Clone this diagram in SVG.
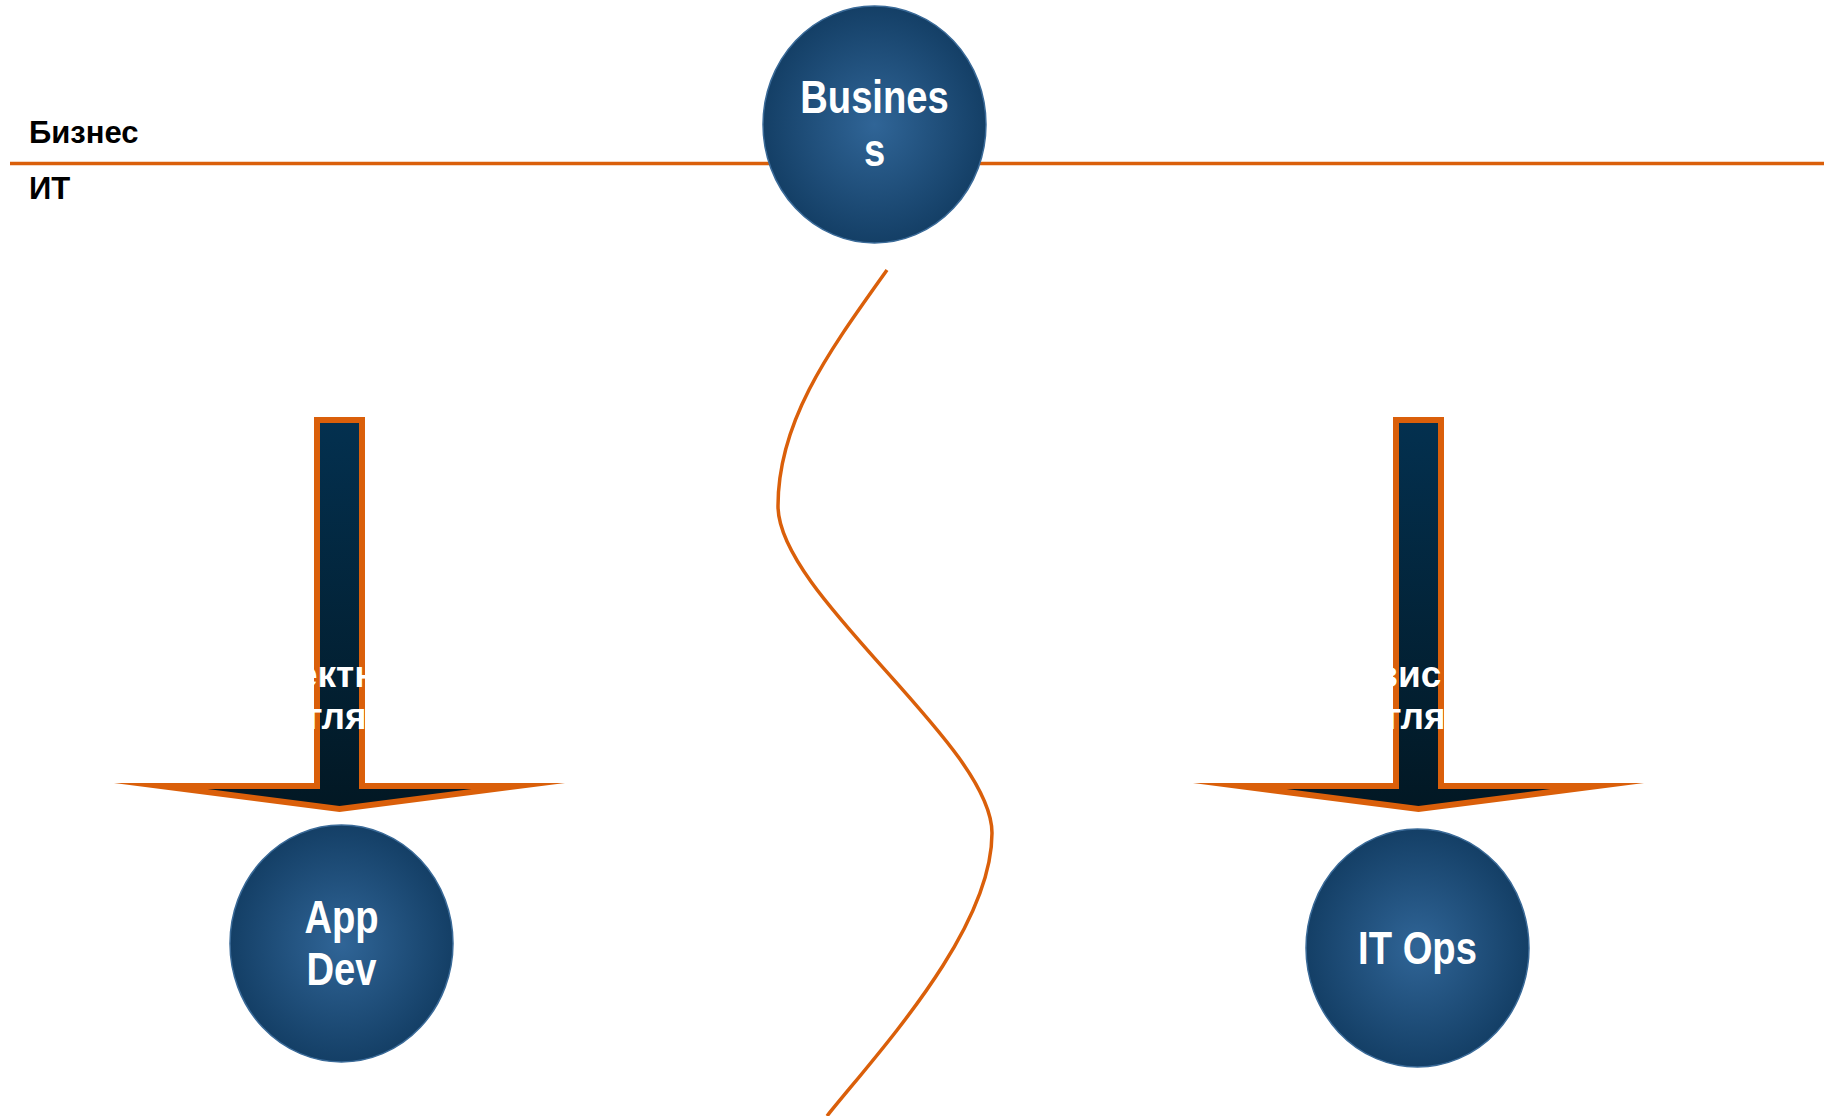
<svg xmlns="http://www.w3.org/2000/svg" width="1826" height="1116" viewBox="0 0 1826 1116">
<style>
.sep{stroke:#DA5F0A;stroke-width:3.5;fill:none}
.curve{stroke:#DA5F0A;stroke-width:3.5;fill:none}
.lbl{font-family:"Liberation Sans",Arial,sans-serif;font-weight:bold;font-size:31px;fill:#000}
.circ{fill:url(#cg);stroke:#3a6a98;stroke-width:1.5}
.ctext{font-family:"Liberation Sans",Arial,sans-serif;font-weight:bold;font-size:46px;fill:#fff;text-anchor:middle}
.atext{font-family:"Liberation Sans",Arial,sans-serif;font-weight:bold;font-size:37px;fill:#fff}
.aout{fill:#DA5F0A}
.ain{fill:url(#ag)}
</style>
<defs>
<radialGradient id="cg" cx="0.5" cy="0.5" r="0.5">
<stop offset="0" stop-color="#306597"/>
<stop offset="1" stop-color="#143f66"/>
</radialGradient>
<linearGradient id="ag" x1="0" y1="0" x2="0" y2="1">
<stop offset="0" stop-color="#03304f"/>
<stop offset="1" stop-color="#021824"/>
</linearGradient>
<clipPath id="clipL" clipPathUnits="userSpaceOnUse">
<rect x="297" y="640" width="69" height="58"/>
<rect x="307" y="698" width="61" height="47"/>
</clipPath>
<clipPath id="clipR" clipPathUnits="userSpaceOnUse">
<rect x="297" y="640" width="67" height="58"/>
<rect x="307" y="698" width="61" height="47"/>
</clipPath>
<g id="arrowShape">
<polygon class="aout" points="314,417 365,417 365,783 565,783 339.5,812 114,783 314,783"/>
<polygon class="ain" points="320,423 359,423 359,789 471.5,789 339.5,806 207.5,789 320,789"/>
</g>
</defs>
<rect width="1826" height="1116" fill="#fff"/>
<line class="sep" x1="10" y1="163.5" x2="1824" y2="163.5"/>
<text class="lbl" x="29" y="143">Бизнес</text>
<text class="lbl" x="29" y="199">ИТ</text>
<g id="connectors">
<path class="curve" d="M 887,270 C 830,350 778,420 778,506 C 778,595 992,745 992,833 C 992,930 880,1050 827,1116"/>
</g>
<g id="node-business">
<ellipse class="circ" cx="874.5" cy="124.5" rx="111.5" ry="118.5"/>
<g transform="translate(874.5,0) scale(0.83,1)">
<text class="ctext" x="0" y="113">Busines</text>
<text class="ctext" x="0" y="166">s</text>
</g>
</g>
<g id="arrow-project">
<use href="#arrowShape"/>
<text class="atext" clip-path="url(#clipL)"><tspan x="297" y="687" text-anchor="end">Про</tspan><tspan x="297" y="687" text-anchor="start">ектный</tspan><tspan x="307" y="729" text-anchor="end">вз</tspan><tspan x="307" y="729" text-anchor="start">гляд</tspan></text>
</g>
<g id="arrow-service" transform="translate(1079,0)">
<use href="#arrowShape"/>
<text class="atext" clip-path="url(#clipR)"><tspan x="319" y="687" text-anchor="end">Серв</tspan><tspan x="319" y="687" text-anchor="start">исный</tspan><tspan x="307" y="729" text-anchor="end">вз</tspan><tspan x="307" y="729" text-anchor="start">гляд</tspan></text>
</g>
<g id="node-appdev">
<ellipse class="circ" cx="341.5" cy="943.5" rx="111.5" ry="118.5"/>
<g transform="translate(341.5,0) scale(0.83,1)">
<text class="ctext" x="0" y="933">App</text>
<text class="ctext" x="0" y="985">Dev</text>
</g>
</g>
<g id="node-itops">
<ellipse class="circ" cx="1417.5" cy="948" rx="111.5" ry="119"/>
<g transform="translate(1417.5,0) scale(0.83,1)">
<text class="ctext" x="0" y="964">IT Ops</text>
</g>
</g>
</svg>
